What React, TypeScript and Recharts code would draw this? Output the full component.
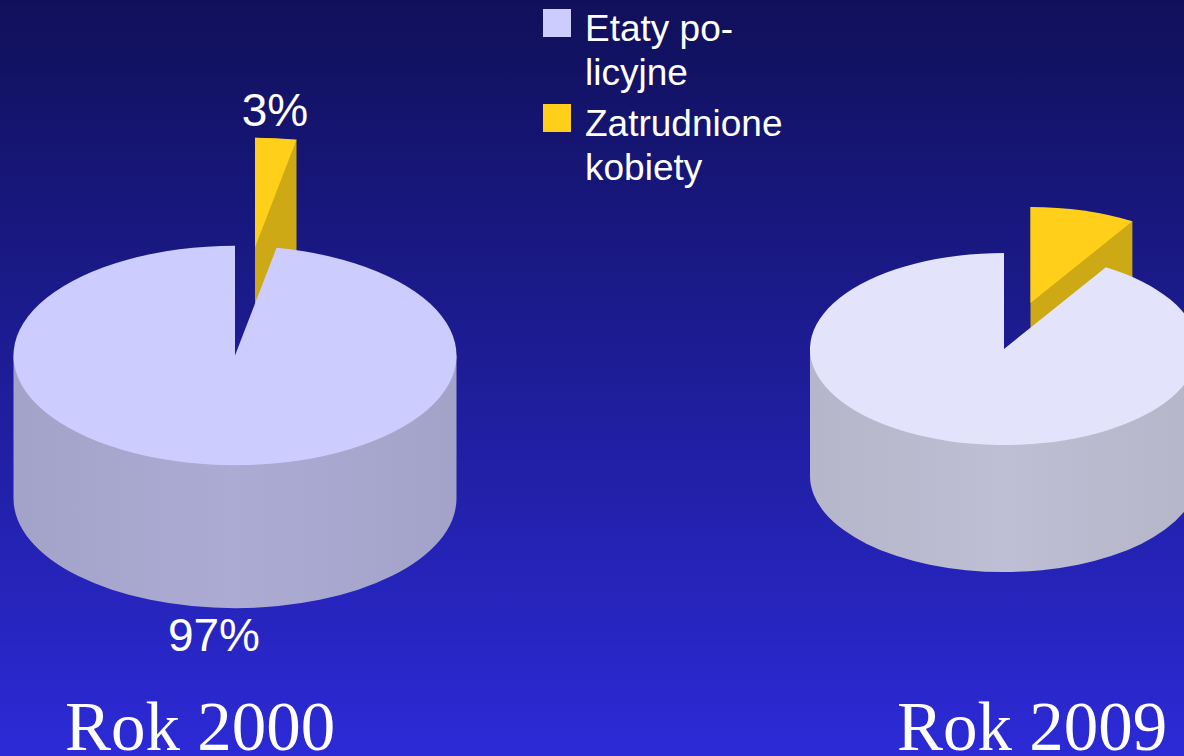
import { Legend, Pie, PieChart } from "recharts";

const categories = ["Etaty policyjne", "Zatrudnione kobiety"];
const values2000 = [97, 3];
const values2009 = [91.2, 8.8];
const legendLines = [
  ["Etaty po-", "licyjne"],
  ["Zatrudnione", "kobiety"],
];
const chartTitles = ["Rok 2000", "Rok 2009"];

const WIDTH = 1184;
const HEIGHT = 756;
const TILT = 0.495;
const RAD = Math.PI / 180;
const SANS = '"Liberation Sans", Arial, sans-serif';
const SERIF = '"Liberation Serif", "Times New Roman", serif';
const YELLOW = "#ffcf19";
const YELLOW_DARK = "#cca915";

// yellow goes first so the big slice is painted over its walls
const toSlices = (values: number[]) =>
  [1, 0].map((i) => ({ name: categories[i], value: values[i] }));

const makeShape =
  (depth: number, topColor: string, wallId: string, explode: [number, number]) =>
  (props: any) => {
    const { cx, cy, outerRadius, startAngle, endAngle, index } = props;
    const rx = outerRadius;
    const ry = outerRadius * TILT;
    const small = index === 0;
    const ox = cx + (small ? explode[0] : 0);
    const oy = cy + (small ? explode[1] : 0);
    const px = (a: number) => ox + rx * Math.cos(a * RAD);
    const py = (a: number) => oy - ry * Math.sin(a * RAD);
    const large = startAngle - endAngle > 180 ? 1 : 0;

    const top = `M${ox},${oy} L${px(startAngle)},${py(startAngle)} A${rx},${ry} 0 ${large} 1 ${px(endAngle)},${py(endAngle)} Z`;

    // outer wall, only the near side; runs under the top face so no seam shows
    const hi = Math.min(startAngle, 0);
    const lo = Math.max(endAngle, -180);
    const wall =
      hi > lo
        ? `M${px(hi)},${py(hi)} L${ox},${oy + 4} L${px(lo)},${py(lo)} L${px(lo)},${py(lo) + depth} A${rx},${ry} 0 0 0 ${px(hi)},${py(hi) + depth} Z`
        : null;

    // cut face at the clockwise end of the slice, also tucked under the top
    const cut =
      Math.cos(endAngle * RAD) > 0.001
        ? `M${px(startAngle)},${py(startAngle)} L${px(endAngle)},${py(endAngle)} L${px(endAngle)},${py(endAngle) + depth} L${ox},${oy + depth} L${ox},${oy} Z`
        : null;

    return (
      <g>
        {wall && <path d={wall} fill={`url(#${wallId})`} />}
        {cut && <path d={cut} fill={YELLOW_DARK} />}
        <path d={top} fill={small ? YELLOW : topColor} />
      </g>
    );
  };

const percentLabel = (props: any) => {
  const { cx, cy, value, index } = props;
  const dx = index === 0 ? 40 : -21;
  const dy = index === 0 ? -230 : 295;
  return (
    <text
      x={cx + dx}
      y={cy + dy}
      fill="#ffffff"
      textAnchor="middle"
      style={{ fontFamily: SANS, fontSize: 46 }}
    >
      {`${value}%`}
    </text>
  );
};

const legendContent = () => (
  <div style={{ fontFamily: SANS, fontSize: 37, lineHeight: "44px", color: "#ffffff" }}>
    {legendLines.map((lines, i) => (
      <div key={i} style={{ position: "relative", paddingLeft: 42, marginBottom: 7 }}>
        <span
          style={{
            position: "absolute",
            left: 0,
            top: 2,
            width: 28,
            height: 28,
            background: i === 0 ? "#ccccff" : YELLOW,
          }}
        />
        {lines.map((line) => (
          <div key={line}>{line}</div>
        ))}
      </div>
    ))}
  </div>
);

const wallGradient = (id: string, edge: string, middle: string) => (
  <linearGradient id={id} x1="0" y1="0" x2="1" y2="0">
    <stop offset="0" stopColor={edge} />
    <stop offset="0.5" stopColor={middle} />
    <stop offset="1" stopColor={edge} />
  </linearGradient>
);

export default function App() {
  return (
    <div
      style={{
        position: "absolute",
        left: 0,
        top: 0,
        width: WIDTH,
        height: HEIGHT,
        overflow: "hidden",
        background: "linear-gradient(180deg, #10105a 0%, #2c2ad6 100%)",
      }}
    >
      <PieChart width={WIDTH} height={HEIGHT} margin={{ top: 0, right: 0, bottom: 0, left: 0 }}>
        <defs>
          {wallGradient("wall2000", "#a3a2c8", "#acabd4")}
          {wallGradient("wall2009", "#b6b6ca", "#bebed4")}
        </defs>
        <Legend
          content={legendContent}
          wrapperStyle={{ position: "absolute", left: 543, top: 7, width: 260, bottom: "auto" }}
        />
        <Pie
          data={toSlices(values2000)}
          dataKey="value"
          nameKey="name"
          cx={235}
          cy={355.5}
          innerRadius={0}
          outerRadius={221.5}
          startAngle={90}
          endAngle={-270}
          stroke="none"
          shape={makeShape(143, "#ccccff", "wall2000", [20, -108])}
          label={percentLabel}
          labelLine={false}
          isAnimationActive={false}
        />
        <Pie
          data={toSlices(values2009)}
          dataKey="value"
          nameKey="name"
          cx={1004}
          cy={349}
          innerRadius={0}
          outerRadius={194}
          startAngle={90}
          endAngle={-270}
          stroke="none"
          shape={makeShape(127, "#e3e3fb", "wall2009", [26.5, -46])}
          isAnimationActive={false}
        />
        <text x={65} y={750} fill="#ffffff" style={{ fontFamily: SERIF, fontSize: 69 }}>
          {chartTitles[0]}
        </text>
        <text x={897} y={750} fill="#ffffff" style={{ fontFamily: SERIF, fontSize: 69 }}>
          {chartTitles[1]}
        </text>
      </PieChart>
    </div>
  );
}
